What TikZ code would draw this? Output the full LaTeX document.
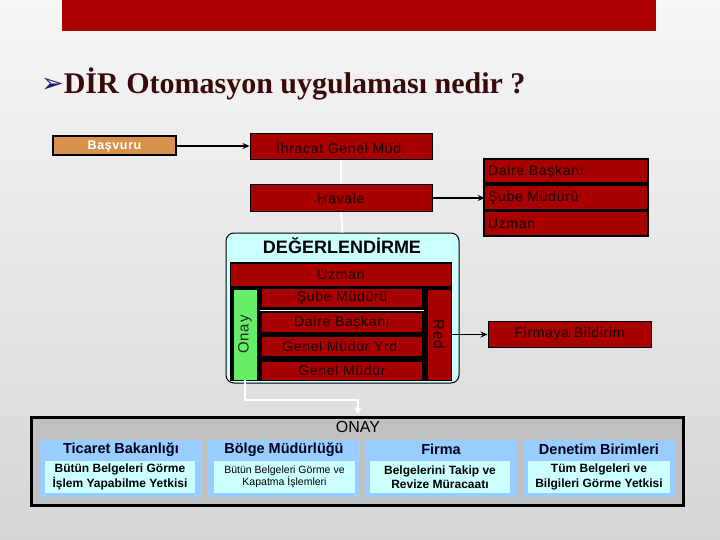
\documentclass[tikz,border=0pt]{standalone}
\usepackage{fontspec}
\setmainfont{Liberation Sans}
\newfontfamily\serifb{Liberation Serif}
\newfontfamily\djv{DejaVu Sans}
\newfontfamily\sfsp[LetterSpace=5]{Liberation Sans}
\usetikzlibrary{arrows.meta}
\definecolor{bgtop}{HTML}{F6F6F6}
\definecolor{bgbot}{HTML}{D6D6D6}
\definecolor{dred}{HTML}{A80000}
\definecolor{barred}{HTML}{AA0000}
\definecolor{rtext}{HTML}{1A0000}
\definecolor{tanc}{HTML}{D8914A}
\definecolor{lcyan}{HTML}{CCFFFF}
\definecolor{lgreen}{HTML}{66EE66}
\definecolor{pblue}{HTML}{99CCFF}
\definecolor{titlec}{HTML}{3A0A0A}
\definecolor{navyc}{HTML}{1A1A6E}
\definecolor{onaygray}{HTML}{C0C0C0}
\tikzset{
  redbox/.style={fill=dred, text=rtext, font=\sfsp\fontsize{14}{16}\selectfont, inner sep=0pt},
  stackbox/.style={redbox, text width=156pt, align=left, inner xsep=3pt, minimum height=22pt},
  innerbox/.style={redbox, minimum width=160pt},
  wline/.style={draw=white, line width=2pt},
  blk/.style={draw=black, line width=1.5pt, -{Stealth[length=7pt,width=6pt]}},
  panel/.style={fill=pblue, inner sep=0pt, minimum height=57pt},
  ptitle/.style={font=\bfseries\fontsize{14.5}{16}\selectfont, text=black!90!blue},
  ibox/.style={fill=lcyan, inner sep=0pt, minimum height=32pt, align=center, text=black}
}
\begin{document}
\begin{tikzpicture}[x=1pt,y=-1pt]
\shade[top color=bgtop, bottom color=bgbot] (0,0) rectangle (720,540);
\useasboundingbox (0,0) rectangle (720,540);
\fill[barred] (62,0) rectangle (656,31);
% title
\node[anchor=west, inner sep=0pt] (title) at (41,84) {{\djv\fontsize{27}{28}\selectfont\color{navyc}\raisebox{1pt}{➢}}{\serifb\bfseries\fontsize{30}{34}\selectfont\color{titlec}DİR Otomasyon uygulaması nedir ?}};
% top flow
\node[draw=black, line width=2pt, fill=tanc, text=white, font=\sfsp\bfseries\fontsize{12.5}{14}\selectfont, minimum width=123pt, minimum height=19pt, inner sep=0pt] (bas) at (114.5,146) {Başvuru};
\node[redbox, draw=black, line width=1pt, minimum width=182pt, minimum height=26pt] (ihr) at (341,147) {İhracat Genel Müd.};
\node[redbox, draw=black, line width=1pt, minimum width=182pt, minimum height=27pt] (hav) at (341,198) {Havale};
\fill[black] (483,158) rectangle (649,237);
\node[stackbox] (dai1) at (566,171.5) {Daire Başkanı};
\node[stackbox, minimum height=23pt] (sube1) at (566,198) {Şube Müdürü};
\node[stackbox] (uzm1) at (566,223.5) {Uzman};
\draw[blk] (bas.east) -- (bas.east -| ihr.west);
\draw[blk] (hav.east) -- (sube1.west);
\draw[wline] (ihr.south) -- (hav.north);
% degerlendirme
\node[draw=black, line width=1pt, fill=lcyan, rounded corners=8pt, minimum width=233pt, minimum height=150pt] (deg) at (342.5,308) {};
\draw[wline] (hav.south) -- (deg.north);
\node[font=\bfseries\fontsize{18}{20}\selectfont, inner sep=0pt] (degt) at (342,246) {DEĞERLENDİRME};
\fill[black] (230,262) rectangle (452,381);
\node[redbox, minimum width=220pt, minimum height=22pt] (uzm2) at (341,274.5) {Uzman};
\node[fill=lgreen, inner sep=0pt, minimum width=23pt, minimum height=90pt] (onay) at (245,334.5) {};
\node[rotate=90, font=\sfsp\fontsize{15}{16}\selectfont, text=black!85, inner sep=0pt] (onayt) at (onay.center) {Onay};
\node[redbox, minimum width=23pt, minimum height=90pt] (red) at (439,334.5) {};
\node[rotate=-90, font=\sfsp\fontsize{15}{16}\selectfont, text=rtext, inner sep=0pt] (redt) at (red.center) {Red};
\node[innerbox, minimum height=18pt] (sube2) at (342,298) {Şube Müdürü};
\draw[draw=white, line width=1pt] (260,310.5) -- (424,310.5);
\node[innerbox, minimum height=19pt] (dai2) at (342,322.5) {Daire Başkanı};
\node[innerbox, minimum height=19pt] (yrd) at (342,346.5) {Genel Müdür Yrd.};
\node[innerbox, minimum height=18pt] (gm) at (342,370.5) {Genel Müdür};
\node[redbox, draw=black, line width=1pt, minimum width=163pt, minimum height=26pt] (fir) at (569.5,334) {Firmaya Bildirim};
\draw[blk] (red.east) -- (red.east -| fir.west);
% onay box
\node[fill=onaygray, draw=black, line width=3pt, minimum width=652pt, minimum height=88pt, inner sep=0pt] (ob) at (357,461) {};
\node[font=\fontsize{16}{18}\selectfont, inner sep=0pt] (obt) at (358,427) {ONAY};
\coordinate (bend) at (358,400);
\draw[wline, -{Stealth[length=7pt,width=7pt]}] (onay.south) |- (bend) -- ([yshift=1.5pt]ob.north -| bend);
% panels
\node[panel, minimum width=162pt] (p1) at (121,468.5) {};
\node[ptitle] (t1) at (121,449.5) {Ticaret Bakanlığı};
\node[ibox, minimum width=150pt, font=\bfseries\fontsize{12}{14.5}\selectfont] (i1) at (120,477) {Bütün Belgeleri Görme\\İşlem Yapabilme Yetkisi};
\node[panel, minimum width=152pt] (p2) at (284,468.5) {};
\node[ptitle] (t2) at (284,449.5) {Bölge Müdürlüğü};
\node[ibox, minimum width=141pt, font=\fontsize{10.5}{12}\selectfont, anchor=north] (i2) at (284.5,461) {Bütün Belgeleri Görme ve\\Kapatma İşlemleri};
\node[panel, minimum width=152pt] (p3) at (441,468.5) {};
\node[ptitle] (t3) at (441,449.5) {Firma};
\node[ibox, minimum width=140pt, font=\bfseries\fontsize{12}{14.5}\selectfont] (i3) at (440,477) {Belgelerini Takip ve\\Revize Müracaatı};
\node[panel, minimum width=152pt] (p4) at (599,468.5) {};
\node[ptitle] (t4) at (599,449.5) {Denetim Birimleri};
\node[ibox, minimum width=142pt, font=\bfseries\fontsize{12}{14.5}\selectfont] (i4) at (599,477) {Tüm Belgeleri ve\\Bilgileri Görme Yetkisi};
\end{tikzpicture}
\end{document}
